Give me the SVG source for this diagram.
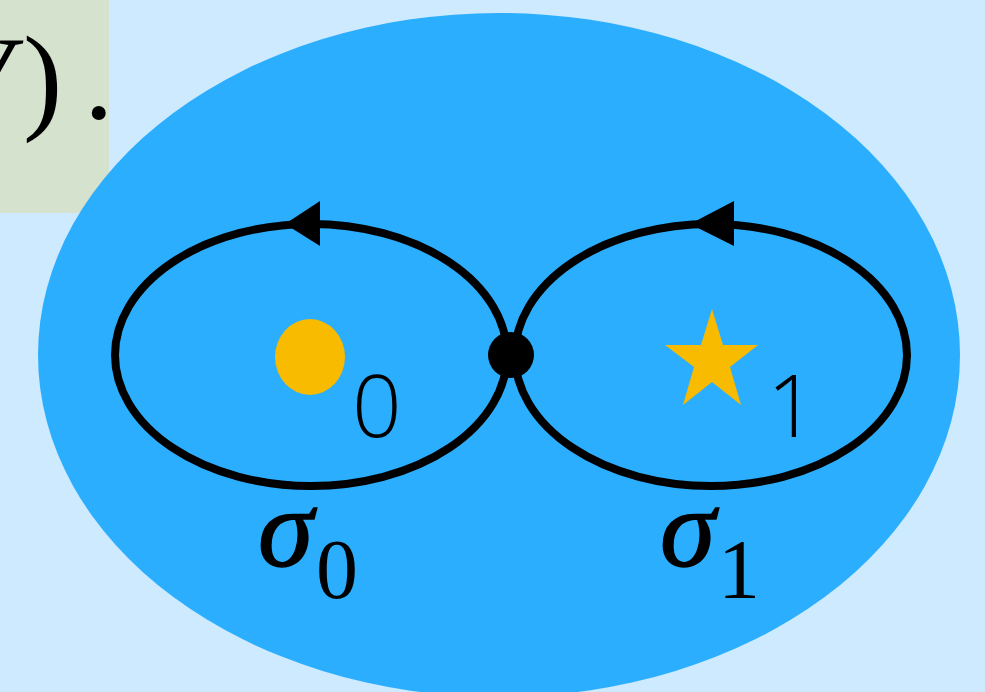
<svg xmlns="http://www.w3.org/2000/svg" width="985" height="692" viewBox="0 0 985 692">
<defs>
<style>
.loop{fill:none;stroke:#000;stroke-width:8}
.serif{font-family:"Liberation Serif","Times New Roman",serif;fill:#000}
.sans{font-family:"Open Sans","Liberation Sans",Arial,sans-serif;font-weight:300;fill:#000}
.sig{stroke:#000;stroke-width:1.5}
</style>
</defs>
<rect x="0" y="0" width="985" height="692" fill="#cdeafe"/>
<g id="caption">
<rect x="0" y="0" width="109" height="213" fill="#d5e2cd"/>
<text class="serif" x="12" y="118" font-size="118" font-style="italic" text-anchor="end">V</text>
<text class="serif" x="23" y="118" font-size="118">)</text>
<text class="serif" x="84" y="118" font-size="118">.</text>
</g>
<g id="disk">
<ellipse cx="499" cy="355" rx="461" ry="342" fill="#29adfe" fill-opacity="0.985"/>
</g>
<g id="connectors">
<ellipse class="loop" cx="311" cy="355" rx="196" ry="131"/>
<ellipse class="loop" cx="711" cy="355" rx="196" ry="131"/>
<polygon points="285,224 320,201 320,246" fill="#000"/>
<polygon points="690,224 734,201 734,246" fill="#000"/>
</g>
<g id="basepoint"><circle cx="511" cy="355" r="23" fill="#000"/></g>
<g id="puncture0">
<ellipse cx="310" cy="357" rx="35" ry="38" fill="#f8bb00"/>
<text class="sans" x="352" y="437" font-size="87">0</text>
</g>
<g id="puncture1">
<polygon points="712,309 723,345 758,345 730,367 741,405 712,382 683,405 694,367 665,345 701,345" fill="#f8bb00"/>
<text class="sans" x="767" y="437" font-size="87">1</text>
</g>
<g id="label0">
<text class="serif sig" x="258" y="566" font-size="112" font-style="italic">σ</text>
<text class="serif" x="316" y="598" font-size="84">0</text>
</g>
<g id="label1">
<text class="serif sig" x="660" y="566" font-size="112" font-style="italic">σ</text>
<text class="serif" x="718" y="598" font-size="84">1</text>
</g>
</svg>
